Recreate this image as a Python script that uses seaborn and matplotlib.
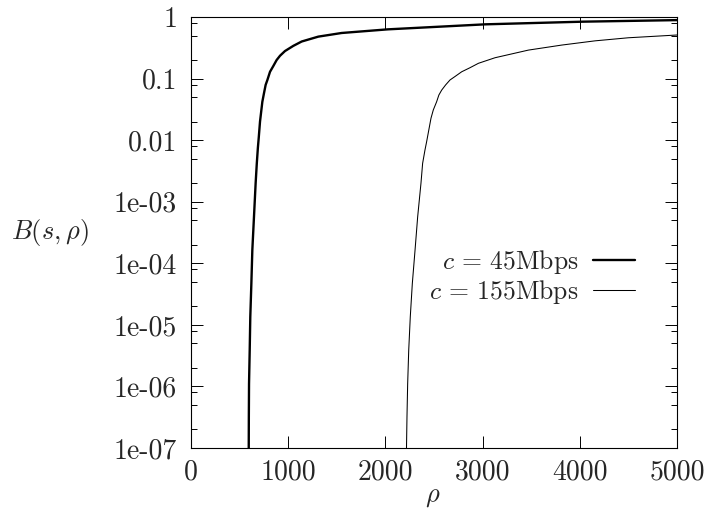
import matplotlib
matplotlib.use("Agg")
import matplotlib.pyplot as plt
import matplotlib.ticker as mticker
import seaborn as sns

# values
rho_45 = [594, 595, 597, 604, 610, 621, 631, 648, 665, 677, 688, 697, 710, 734, 751, 768,
          786, 813, 847, 881, 916, 967, 1053, 1139, 1310, 1550, 2024, 3025, 4036, 5000]
b_45 = [1e-7, 3.2e-7, 1.1e-6, 3.9e-6, 1.35e-5, 4.7e-5, 1.64e-4, 5.7e-4, 2.0e-3, 4.2e-3,
        7.5e-3, 1.1e-2, 0.020, 0.042, 0.058, 0.079, 0.095, 0.129, 0.16, 0.20, 0.235, 0.28,
        0.34, 0.40, 0.48, 0.55, 0.63, 0.76, 0.84, 0.89]

rho_155 = [2217, 2222, 2229, 2240, 2256, 2277, 2305, 2332, 2366, 2383, 2407, 2424, 2469,
           2493, 2527, 2550, 2579, 2620, 2665, 2716, 2785, 2870, 2957, 3128, 3471, 3814,
           4157, 4500, 5000]
b_155 = [1e-7, 3.2e-7, 1.1e-6, 3.9e-6, 1.35e-5, 4.7e-5, 1.64e-4, 5.7e-4, 2.0e-3, 4.2e-3,
         6.9e-3, 9.4e-3, 0.0227, 0.031, 0.042, 0.054, 0.065, 0.079, 0.095, 0.108, 0.129,
         0.15, 0.177, 0.218, 0.29, 0.35, 0.41, 0.46, 0.51]

labels = [r'$c\,=\,45$Mbps', r'$c\,=\,155$Mbps']
xticks = [0, 1000, 2000, 3000, 4000, 5000]
yticks = [1, 0.1, 0.01, 1e-3, 1e-4, 1e-5, 1e-6, 1e-7]
ytick_labels = ['1', '0.1', '0.01', '1e-03', '1e-04', '1e-05', '1e-06', '1e-07']

sns.set_style("ticks")
plt.rcParams['font.family'] = ['cmr10', 'DejaVu Serif']
plt.rcParams['mathtext.fontset'] = 'cm'
plt.rcParams['axes.unicode_minus'] = False
plt.rcParams['axes.formatter.use_mathtext'] = True

fig = plt.figure(figsize=(7.07, 5.17), dpi=100)
ax = fig.add_axes([191 / 707, 69 / 517, 486 / 707, 431 / 517])

sns.lineplot(x=rho_45, y=b_45, ax=ax, color='black', lw=1.7, label=labels[0],
             estimator=None, sort=False)
sns.lineplot(x=rho_155, y=b_155, ax=ax, color='black', lw=0.75, label=labels[1],
             estimator=None, sort=False)

ax.set_yscale('log')
ax.set_xlim(0, 5000)
ax.set_ylim(1e-7, 1)
ax.set_xticks(xticks)
ax.set_xticklabels([str(t) for t in xticks])
ax.yaxis.set_major_locator(mticker.FixedLocator(yticks))
ax.yaxis.set_major_formatter(mticker.FixedFormatter(ytick_labels))
ax.yaxis.set_minor_locator(mticker.LogLocator(base=10, subs=[2, 5, 8], numticks=20))
ax.yaxis.set_minor_formatter(mticker.NullFormatter())
ax.xaxis.set_minor_locator(mticker.NullLocator())

ax.tick_params(which='both', direction='in', top=True, right=True, width=0.7,
               labelsize=20, color='black')
ax.tick_params(which='major', length=8.5)
ax.tick_params(which='minor', length=4.3)
ax.tick_params(axis='y', pad=10)
ax.tick_params(axis='x', pad=8)
for sp in ax.spines.values():
    sp.set_linewidth(0.8)
    sp.set_color('black')

ax.set_xlabel('')
ax.set_ylabel('')
fig.text(50 / 707, 1 - 233 / 517, r'$B(s,\rho)$', fontsize=19, ha='center', va='center')
fig.text(433 / 707, 1 - 497 / 517, r'$\rho$', fontsize=19, ha='center', va='center')

ax.legend(loc='upper right', bbox_to_anchor=(0.914, 0.465), frameon=False,
          markerfirst=False, fontsize=18.5, handlelength=1.65, handletextpad=0.55,
          labelspacing=0.1, borderaxespad=0, borderpad=0)

plt.savefig('out.png', dpi=100)
